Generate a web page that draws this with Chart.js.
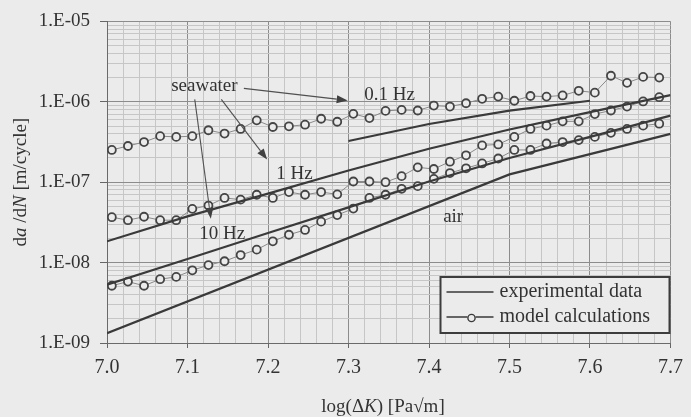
<!DOCTYPE html>
<html>
<head>
<meta charset="utf-8">
<title>Crack growth rate vs log(ΔK)</title>
<script src="https://cdn.jsdelivr.net/npm/chart.js@4.4.0/dist/chart.umd.min.js"></script>
<style>
  html, body { margin: 0; padding: 0; background: #ebebeb; }
  #wrap { width: 691px; height: 417px; position: relative; }
</style>
</head>
<body>
<div id="wrap"><canvas id="crackChart"></canvas></div>
<script>
// log(dK) of the model calculation points
const modelX = [7.006, 7.026, 7.046, 7.066, 7.086, 7.106, 7.126, 7.146, 7.166, 7.186,
                7.206, 7.226, 7.246, 7.266, 7.286, 7.306, 7.326, 7.346, 7.366, 7.386,
                7.406, 7.426, 7.446, 7.466, 7.486, 7.506, 7.526, 7.546, 7.566, 7.586,
                7.606, 7.626, 7.646, 7.666, 7.686];

// model calculations, da/dN [m/cycle]
const model01Hz = [2.52e-7, 2.82e-7, 3.16e-7, 3.74e-7, 3.66e-7, 3.74e-7, 4.43e-7, 4.03e-7, 4.60e-7, 5.88e-7,
                   4.86e-7, 4.96e-7, 5.19e-7, 6.15e-7, 5.65e-7, 7.08e-7, 6.28e-7, 7.71e-7, 7.93e-7, 7.80e-7,
                   8.98e-7, 8.73e-7, 9.59e-7, 1.09e-6, 1.16e-6, 1.03e-6, 1.18e-6, 1.16e-6, 1.20e-6, 1.37e-6,
                   1.30e-6, 2.11e-6, 1.72e-6, 2.04e-6, 2.00e-6];
const model1Hz = [3.67e-8, 3.37e-8, 3.72e-8, 3.37e-8, 3.37e-8, 4.66e-8, 5.12e-8, 6.37e-8, 6.07e-8, 6.98e-8,
                  6.37e-8, 7.54e-8, 6.98e-8, 7.54e-8, 7.06e-8, 1.02e-7, 1.02e-7, 1.00e-7, 1.19e-7, 1.53e-7,
                  1.46e-7, 1.80e-7, 2.16e-7, 2.87e-7, 2.95e-7, 3.66e-7, 4.60e-7, 5.05e-7, 5.71e-7, 5.71e-7,
                  7.03e-7, 7.80e-7, 8.73e-7, 1.01e-6, 1.14e-6];
const model10Hz = [5.15e-9, 5.81e-9, 5.15e-9, 6.22e-9, 6.64e-9, 8.02e-9, 9.31e-9, 1.04e-8, 1.24e-8, 1.45e-8,
                   1.84e-8, 2.22e-8, 2.55e-8, 3.23e-8, 3.90e-8, 4.70e-8, 6.37e-8, 6.98e-8, 8.28e-8, 8.93e-8,
                   1.10e-7, 1.30e-7, 1.49e-7, 1.71e-7, 1.97e-7, 2.52e-7, 2.52e-7, 3.03e-7, 3.16e-7, 3.34e-7,
                   3.66e-7, 4.11e-7, 4.60e-7, 5.05e-7, 5.34e-7];

// experimental curves (vertices)
const exp01HzX = [7.3, 7.4, 7.5, 7.6];
const exp01HzY = [3.25e-7, 5.30e-7, 7.76e-7, 1.03e-6];
const exp1HzX = [7.0, 7.1, 7.2, 7.3, 7.4, 7.5, 7.6, 7.7];
const exp1HzY = [1.84e-8, 3.76e-8, 7.21e-8, 1.40e-7, 2.61e-7, 4.53e-7, 7.43e-7, 1.21e-6];
const exp10HzX = [7.0, 7.1, 7.2, 7.3, 7.4, 7.5, 7.6, 7.7];
const exp10HzY = [5.32e-9, 1.11e-8, 2.33e-8, 4.86e-8, 1.02e-7, 2.00e-7, 3.66e-7, 6.73e-7];
const airX = [7.0, 7.5, 7.7];
const airY = [1.32e-9, 1.25e-7, 3.99e-7];

// axis ticks
const xTicks = [7.0, 7.1, 7.2, 7.3, 7.4, 7.5, 7.6, 7.7];
const xTickLabels = ['7.0', '7.1', '7.2', '7.3', '7.4', '7.5', '7.6', '7.7'];
const yTicks = [1e-9, 1e-8, 1e-7, 1e-6, 1e-5];
const yTickLabels = ['1.E-09', '1.E-08', '1.E-07', '1.E-06', '1.E-05'];

const BG = '#ebebeb';
const INK = '#333333';
const LINE = '#3a3a3a';
const GRID_MAJOR = '#8c8c8c';
const GRID_MINOR = '#c6c6c6';
const SERIF = '"Liberation Serif", "Times New Roman", serif';

const pts = (xs, ys) => xs.map((x, i) => ({ x: x, y: ys[i] }));

function expSet(label, xs, ys) {
  return {
    label: label,
    data: pts(xs, ys),
    showLine: true,
    borderColor: LINE,
    borderWidth: 2.2,
    pointRadius: 0,
    tension: 0
  };
}

function modelSet(label, ys) {
  return {
    label: label,
    data: pts(modelX, ys),
    showLine: true,
    borderColor: '#8a8a8a',
    borderWidth: 1,
    pointRadius: 4,
    pointBorderWidth: 1.8,
    pointBorderColor: '#454545',
    pointBackgroundColor: BG
  };
}

// draw a run of text pieces (some italic), centred on (cx, cy)
function richText(ctx, parts, cx, cy, size) {
  let total = 0;
  parts.forEach(p => {
    ctx.font = (p.it ? 'italic ' : '') + size + 'px ' + SERIF;
    p.w = ctx.measureText(p.t).width;
    total += p.w;
  });
  let x = cx - total / 2;
  ctx.textAlign = 'left';
  ctx.textBaseline = 'middle';
  parts.forEach(p => {
    ctx.font = (p.it ? 'italic ' : '') + size + 'px ' + SERIF;
    ctx.fillText(p.t, x, cy);
    x += p.w;
  });
}

function arrow(ctx, x0, y0, x1, y1) {
  const ang = Math.atan2(y1 - y0, x1 - x0);
  const len = 11, half = 4;
  ctx.beginPath();
  ctx.moveTo(x0, y0);
  ctx.lineTo(x1 - len * Math.cos(ang), y1 - len * Math.sin(ang));
  ctx.stroke();
  ctx.beginPath();
  ctx.moveTo(x1, y1);
  ctx.lineTo(x1 - len * Math.cos(ang) + half * Math.sin(ang), y1 - len * Math.sin(ang) - half * Math.cos(ang));
  ctx.lineTo(x1 - len * Math.cos(ang) - half * Math.sin(ang), y1 - len * Math.sin(ang) + half * Math.cos(ang));
  ctx.closePath();
  ctx.fill();
}

const bgPlugin = {
  id: 'bg',
  beforeDraw(chart) {
    const ctx = chart.ctx;
    ctx.save();
    ctx.fillStyle = BG;
    ctx.fillRect(0, 0, chart.width, chart.height);
    ctx.restore();
  }
};

const notes = {
  id: 'notes',
  afterDatasetsDraw(chart) {
    const { ctx, chartArea: a, scales: { x, y } } = chart;
    const px = v => x.getPixelForValue(v);
    const py = v => y.getPixelForValue(v);
    ctx.save();
    ctx.fillStyle = INK;

    // environment and frequency labels
    ctx.font = '19px ' + SERIF;
    ctx.textAlign = 'center';
    ctx.textBaseline = 'middle';
    ctx.fillText('seawater', px(7.121), py(1.55e-6));
    ctx.fillText('0.1 Hz', px(7.351), py(1.20e-6));
    ctx.fillText('1 Hz', px(7.233), py(1.25e-7));
    ctx.fillText('10 Hz', px(7.143), py(2.24e-8));
    ctx.fillText('air', px(7.430), py(3.72e-8));

    ctx.strokeStyle = '#505050';
    ctx.fillStyle = '#404040';
    ctx.lineWidth = 1.1;
    arrow(ctx, px(7.170), py(1.47e-6), px(7.299), py(1.04e-6));
    arrow(ctx, px(7.142), py(1.07e-6), px(7.199), py(1.91e-7));
    arrow(ctx, px(7.109), py(1.07e-6), px(7.129), py(3.52e-8));

    // legend box
    const bx = a.right - 230, by = a.bottom - 66, bw = 229, bh = 56;
    ctx.fillStyle = BG;
    ctx.fillRect(bx, by, bw, bh);
    ctx.strokeStyle = '#3c3c3c';
    ctx.lineWidth = 2;
    ctx.strokeRect(bx, by, bw, bh);
    ctx.strokeStyle = LINE;
    ctx.lineWidth = 1.6;
    ctx.beginPath();
    ctx.moveTo(bx + 6, by + 15); ctx.lineTo(bx + 53, by + 15);
    ctx.moveTo(bx + 6, by + 40); ctx.lineTo(bx + 27, by + 40);
    ctx.moveTo(bx + 35, by + 40); ctx.lineTo(bx + 53, by + 40);
    ctx.stroke();
    ctx.lineWidth = 1.4;
    ctx.beginPath();
    ctx.arc(bx + 31, by + 41, 3.6, 0, Math.PI * 2);
    ctx.stroke();
    ctx.fillStyle = INK;
    ctx.font = '20px ' + SERIF;
    ctx.textAlign = 'left';
    ctx.fillText('experimental data', bx + 59, by + 15);
    ctx.fillText('model calculations', bx + 59, by + 40);

    // axis titles
    richText(ctx, [{ t: 'log(Δ' }, { t: 'K', it: true }, { t: ') [Pa√m]' }], 383, 407, 19);
    ctx.translate(21, (a.top + a.bottom) / 2);
    ctx.rotate(-Math.PI / 2);
    richText(ctx, [{ t: 'd' }, { t: 'a', it: true }, { t: ' /d' }, { t: 'N', it: true }, { t: ' [m/cycle]' }], 0, 0, 19);
    ctx.restore();
  }
};

const isMajor = ctx => ctx.tick && ctx.tick.major;

new Chart(document.getElementById('crackChart'), {
  type: 'scatter',
  data: {
    datasets: [
      expSet('0.1 Hz experimental', exp01HzX, exp01HzY),
      expSet('1 Hz experimental', exp1HzX, exp1HzY),
      expSet('10 Hz experimental', exp10HzX, exp10HzY),
      expSet('air experimental', airX, airY),
      modelSet('0.1 Hz model', model01Hz),
      modelSet('1 Hz model', model1Hz),
      modelSet('10 Hz model', model10Hz)
    ]
  },
  options: {
    responsive: true,
    maintainAspectRatio: false,
    animation: false,
    layout: { padding: { top: 17, right: 17, bottom: 0, left: 0 } },
    plugins: {
      legend: { display: false },
      tooltip: { enabled: false }
    },
    scales: {
      x: {
        type: 'linear',
        min: 7.0,
        max: 7.7,
        afterBuildTicks(scale) {
          const ticks = [];
          for (let i = 0; i < xTicks.length; i++) {
            ticks.push({ value: xTicks[i], major: true, label: xTickLabels[i] });
            if (i < xTicks.length - 1) {
              for (let j = 1; j < 5; j++) ticks.push({ value: xTicks[i] + j * 0.02, major: false });
            }
          }
          scale.ticks = ticks;
        },
        afterFit(scale) { scale.height = 74; },
        ticks: {
          autoSkip: false,
          maxRotation: 0,
          padding: 8,
          color: INK,
          font: { family: SERIF, size: 20 },
          callback(value) {
            const i = xTicks.findIndex(t => Math.abs(t - value) < 1e-6);
            return i >= 0 ? xTickLabels[i] : '';
          }
        },
        grid: {
          color: ctx => isMajor(ctx) ? GRID_MAJOR : GRID_MINOR,
          lineWidth: 1,
          tickLength: 5,
          tickColor: ctx => isMajor(ctx) ? '#666666' : 'rgba(0,0,0,0)'
        },
        border: { display: true, color: '#6a6a6a', width: 1 }
      },
      y: {
        type: 'logarithmic',
        min: 1e-9,
        max: 1e-5,
        afterBuildTicks(scale) {
          const ticks = [];
          for (let i = 0; i < yTicks.length; i++) {
            ticks.push({ value: yTicks[i], major: true });
            if (i < yTicks.length - 1) {
              for (let m = 2; m <= 9; m++) ticks.push({ value: yTicks[i] * m, major: false });
            }
          }
          scale.ticks = ticks;
        },
        afterFit(scale) { scale.width = 107; },
        ticks: {
          autoSkip: false,
          padding: 10,
          color: INK,
          font: { family: SERIF, size: 19 },
          callback(value) {
            const i = yTicks.findIndex(t => Math.abs(t - value) / t < 1e-6);
            return i >= 0 ? yTickLabels[i] : '';
          }
        },
        grid: {
          color: ctx => isMajor(ctx) ? GRID_MAJOR : GRID_MINOR,
          lineWidth: 1,
          tickLength: 7,
          tickColor: ctx => isMajor(ctx) ? '#666666' : 'rgba(0,0,0,0)'
        },
        border: { display: true, color: '#6a6a6a', width: 1 }
      }
    }
  },
  plugins: [bgPlugin, notes]
});
</script>
</body>
</html>
